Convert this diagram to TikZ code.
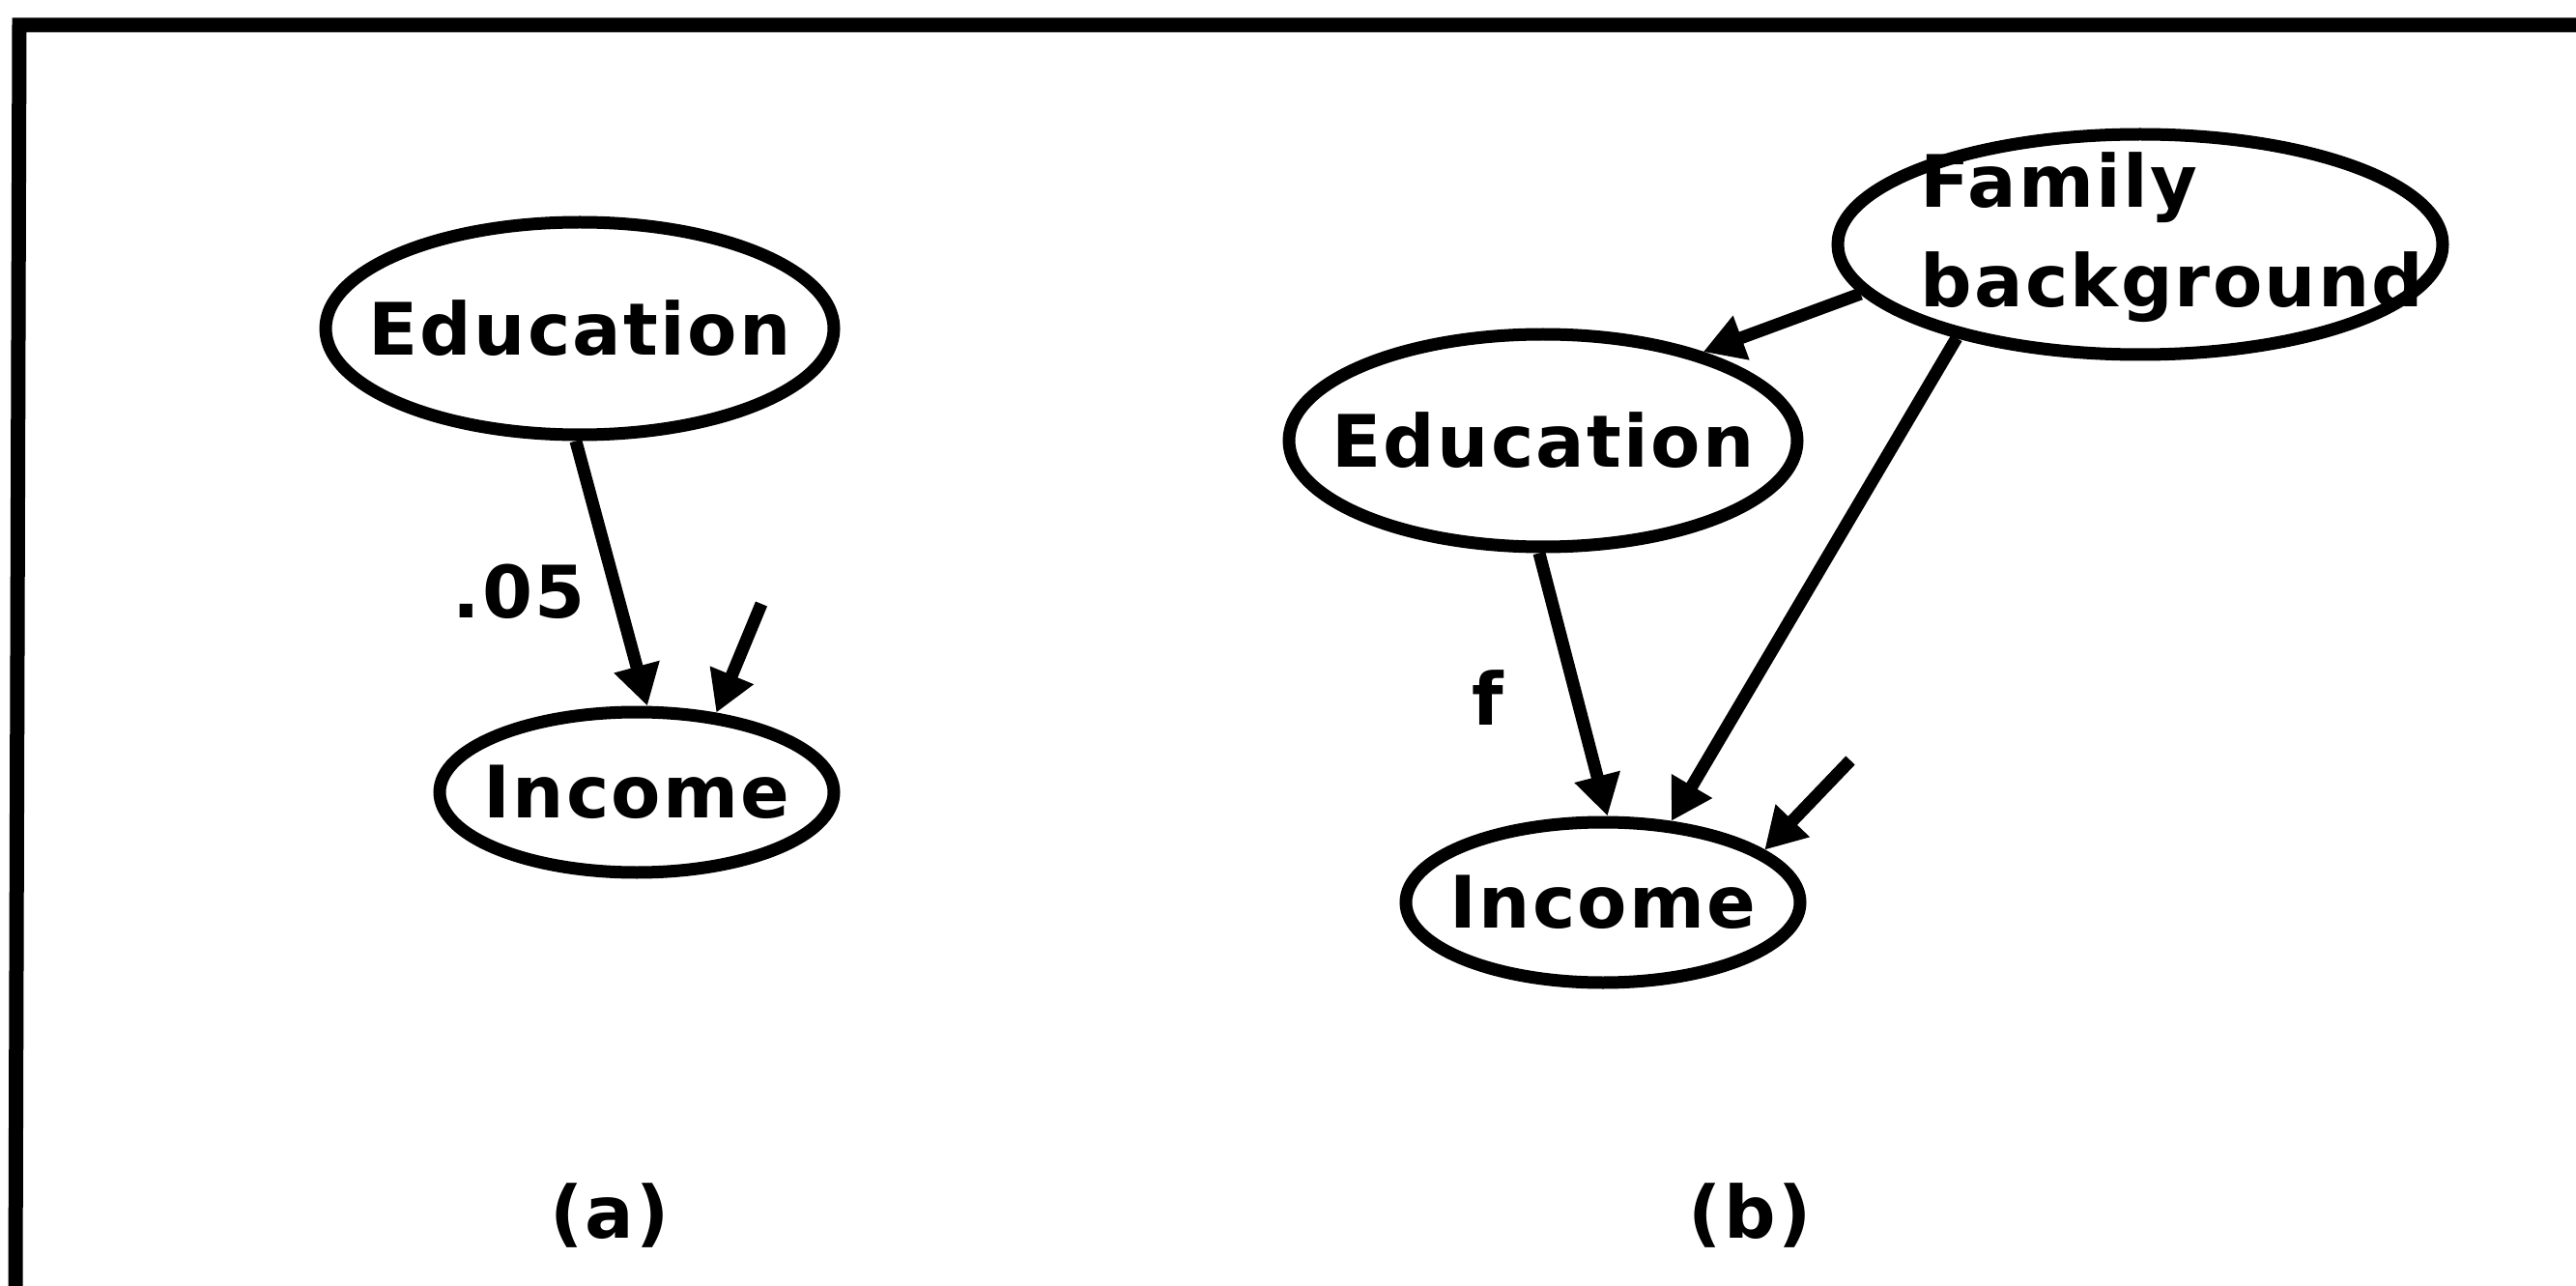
\documentclass[tikz,border=0pt]{standalone}
\usepackage{fontspec}
\setmainfont{DejaVu Sans}[LetterSpace=3]
\usetikzlibrary{arrows.meta, shapes.geometric}
\tikzset{
  >=Latex,
  font=\bfseries\fontsize{21.3}{29.3}\selectfont,
  var/.style={draw, ellipse, line width=1.3mm, inner sep=0pt},
  edu/.style={var, minimum width=5.26cm, minimum height=2.20cm},
  inc/.style={var, minimum width=4.08cm, minimum height=1.66cm},
  fam/.style={var, minimum width=6.26cm, minimum height=2.28cm},
  arr/.style={-{Triangle[length=4.2mm, width=4.6mm]}, line width=1.3mm},
  frame/.style={line width=1.5mm}
}
\begin{document}
\begin{tikzpicture}
  \useasboundingbox (0,0) rectangle (26.66,-13.31);
  \draw[frame] (26.66,-0.26) -- (0.20,-0.26) -- (0.16,-13.31);
  % (a)
  \node[edu, label=center:Education] (eduA) at (6.00,-3.40) {};
  \node[inc, label=center:Income] (incA) at (6.59,-8.20) {};
  \coordinate (errA) at (7.88,-6.25);
  \draw[arr] (eduA.-92) -- (incA.83);
  \draw[arr] (errA) -- (incA.45);
  \node (wA) at (5.37,-6.12) {.05};
  \node (capA) at (6.31,-12.58) {(a)};
  % (b)
  \node[fam, label={[xshift=0.33cm, yshift=0.07cm, align=left]center:{Family\\background}}] (famB) at (22.15,-2.53) {};
  \node[edu, label=center:Education] (eduB) at (15.97,-4.56) {};
  \node[inc, label=center:Income] (incB) at (16.59,-9.34) {};
  \coordinate (errB) at (19.15,-7.87);
  \draw[arr] (famB.190) -- (eduB.29);
  \draw[arr] (famB.207) -- (incB.50);
  \draw[arr] (eduB.-92) -- (incB.87);
  \draw[arr] (errB) -- (incB.18);
  \node (fB) at (15.40,-7.22) {f};
  \node (capB) at (18.11,-12.58) {(b)};
\end{tikzpicture}
\end{document}
